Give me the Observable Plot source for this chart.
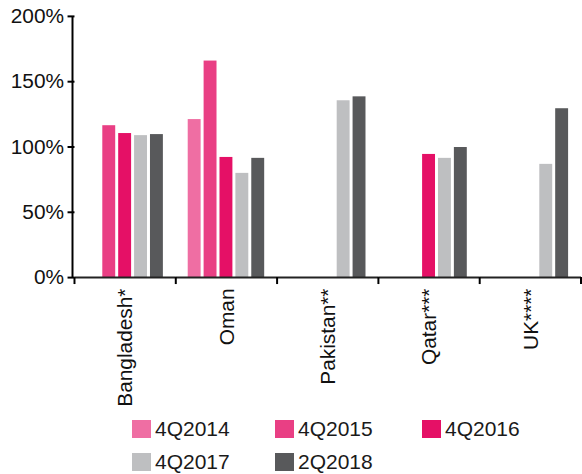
<!DOCTYPE html>
<html><head><meta charset="utf-8">
<script src="https://cdn.jsdelivr.net/npm/d3@7"></script>
<script src="https://cdn.jsdelivr.net/npm/@observablehq/plot@0.6"></script>
<style>
html,body{margin:0;padding:0;background:#fff;overflow:hidden;width:582px;height:474px;position:relative}
#chart{position:absolute;left:0;top:0}
#legend{position:absolute;left:0;top:412px;width:582px;height:62px;font-family:"Liberation Sans",Arial,sans-serif;font-size:21px;color:#1a1a1a}
.item{position:absolute;display:flex;align-items:center;height:18px;white-space:nowrap}
.sw{width:19px;height:18px;display:inline-block;flex:none}
.lab{margin-left:4px;line-height:18px}
</style></head><body><div id="chart"></div><div id="legend"></div>
<script>
const countries = ["Bangladesh*", "Oman", "Pakistan**", "Qatar***", "UK****"];
const periods = ["4Q2014", "4Q2015", "4Q2016", "4Q2017", "2Q2018"];
const colors = ["#ef6ea3", "#e93f84", "#e51066", "#bebfc1", "#58595b"];
const v4Q2014 = [null, 1.21, null, null, null];
const v4Q2015 = [1.163, 1.658, null, null, null];
const v4Q2016 = [1.103, 0.92, null, 0.943, null];
const v4Q2017 = [1.087, 0.798, 1.354, 0.913, 0.867];
const v2Q2018 = [1.095, 0.913, 1.384, 0.996, 1.293];
const yTicks = [0, 0.5, 1, 1.5, 2];

const series = [v4Q2014, v4Q2015, v4Q2016, v4Q2017, v2Q2018];
const rows = [];
countries.forEach((c, i) => periods.forEach((p, j) => {
  const v = series[j][i];
  if (v != null) rows.push({country: c, period: p, value: v});
}));

const chart = Plot.plot({
  width: 586, height: 412,
  marginLeft: 73, marginRight: 0, marginTop: 16, marginBottom: 133,
  style: {fontFamily: "Liberation Sans, Arial, sans-serif", fontSize: "21px", color: "#111", background: "#fff", overflow: "visible"},
  fx: {domain: countries, padding: 0, label: null},
  x: {domain: periods, paddingInner: 0.17, paddingOuter: 0.62, axis: null},
  y: {domain: [0, 2], label: null},
  color: {domain: periods, range: colors},
  marks: [
    Plot.barY(rows, {fx: "country", x: "period", y: "value", fill: "period"}),
    Plot.ruleY([0], {stroke: "#222", strokeWidth: 2}),
    Plot.axisY({ticks: yTicks, tickFormat: d3.format(".0%"), tickSize: 7, tickPadding: 4, label: null, stroke: "#000", strokeWidth: 2, strokeOpacity: 1}),
    Plot.axisFx({anchor: "bottom", tickSize: 0, tickRotate: -90, tickPadding: 11, label: null})
  ]
});
document.getElementById("chart").appendChild(chart);

// y-axis line and category boundary ticks, from the plot's own scales
const fx = chart.scale("fx"), y = chart.scale("y");
const svg = d3.select(chart);
const x0 = fx.range[0];
svg.append("line").attr("x1", x0).attr("x2", x0).attr("y1", y.apply(2)).attr("y2", y.apply(0) + 1)
  .attr("stroke", "#000").attr("stroke-width", 2);
const bounds = countries.map(c => fx.apply(c)).concat([fx.apply(countries[countries.length - 1]) + fx.bandwidth]);
bounds.forEach(b => {
  svg.append("line").attr("x1", b).attr("x2", b).attr("y1", y.apply(0)).attr("y2", y.apply(0) + 7)
    .attr("stroke", "#000").attr("stroke-width", 2);
});

// legend
const pos = [[132, 0], [275, 0], [422, 0], [132, 1], [275, 1]];
const lg = document.getElementById("legend");
periods.forEach((p, i) => {
  const [sx, r] = pos[i];
  const it = document.createElement("div");
  it.className = "item";
  it.style.left = sx + "px";
  it.style.top = (8 + r * 33) + "px";
  it.innerHTML = `<span class="sw" style="background:${colors[i]}"></span><span class="lab">${p}</span>`;
  lg.appendChild(it);
});
</script>
</body></html>
